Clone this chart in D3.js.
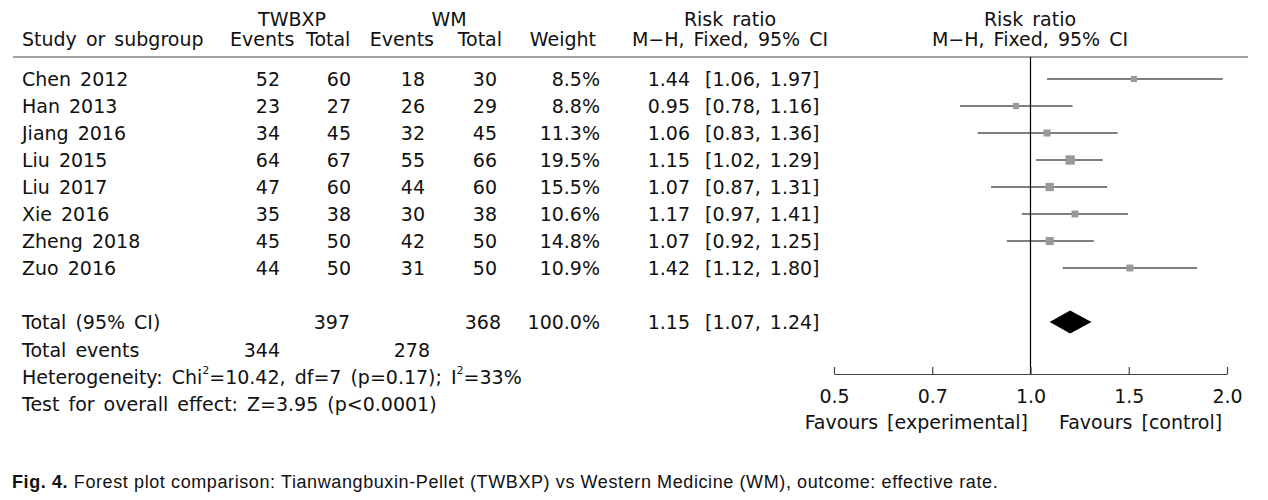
<!DOCTYPE html>
<html>
<head>
<meta charset="utf-8">
<script src="https://cdn.jsdelivr.net/npm/d3@7/dist/d3.min.js"></script>
<style>
  html, body { margin: 0; padding: 0; background: #fff; }
  svg text { font-family: "DejaVu Sans", sans-serif; font-size: 19px; fill: #111; word-spacing: 3px; }
</style>
</head>
<body>
<svg id="chart" width="1268" height="500"></svg>
<script>
// ---------- data ----------
const studies    = ["Chen 2012", "Han 2013", "Jiang 2016", "Liu 2015", "Liu 2017", "Xie 2016", "Zheng 2018", "Zuo 2016"];
const expEvents  = [52, 23, 34, 64, 47, 35, 45, 44];
const expTotal   = [60, 27, 45, 67, 60, 38, 50, 50];
const ctrlEvents = [18, 26, 32, 55, 44, 30, 42, 31];
const ctrlTotal  = [30, 29, 45, 66, 60, 38, 50, 50];
const weights    = [8.5, 8.8, 11.3, 19.5, 15.5, 10.6, 14.8, 10.9];
const rr         = [1.44, 0.95, 1.06, 1.15, 1.07, 1.17, 1.07, 1.42];
const rrLow      = [1.06, 0.78, 0.83, 1.02, 0.87, 0.97, 0.92, 1.12];
const rrHigh     = [1.97, 1.16, 1.36, 1.29, 1.31, 1.41, 1.25, 1.80];
const pooled     = { rr: 1.15, low: 1.07, high: 1.24 };
const totalsN    = [397, 368];
const totalsEv   = [344, 278];
const tickLabels = ["0.5", "0.7", "1.0", "1.5", "2.0"];

// ---------- scales ----------
const svg = d3.select("#chart");
const x = d3.scaleLog().domain([0.5, 2]).range([834, 1227]);
const xTicks = d3.scalePoint().domain(tickLabels).range([834, 1227]).padding(0);
const yRow = d3.scaleBand().domain(studies).range([65.5, 281.5]);
const rowC = s => yRow(s) + yRow.bandwidth() / 2;
const size = d3.scaleSqrt().domain([0, 19.5]).range([0, 9.3]);

const fmt2 = d3.format(".2f");
const fmtW = d3.format(".1f");

// ---------- header ----------
function txt(xp, yp, s, anchor) {
  return svg.append("text").attr("x", xp).attr("y", yp).attr("text-anchor", anchor || "start").text(s);
}
txt(292, 26, "TWBXP", "middle");
txt(449, 26, "WM", "middle");
txt(730, 26, "Risk ratio", "middle");
txt(1030, 26, "Risk ratio", "middle");
txt(22, 46, "Study or subgroup");
txt(230, 46, "Events", "start");
txt(306, 46, "Total", "start");
txt(434, 46, "Events", "end");
txt(502, 46, "Total", "end");
txt(596, 46, "Weight", "end");
txt(730, 46, "M\u2212H, Fixed, 95% CI", "middle");
txt(1030, 46, "M\u2212H, Fixed, 95% CI", "middle");

svg.append("line").attr("x1", 13).attr("x2", 1248).attr("y1", 57).attr("y2", 57)
  .attr("stroke", "#444").attr("stroke-width", 1.2);

// ---------- rows ----------
const rows = svg.append("g").selectAll("g").data(studies).join("g");
rows.append("text").attr("x", 22).attr("y", d => rowC(d) + 7).text(d => d);
rows.append("text").attr("x", 280).attr("y", d => rowC(d) + 7).attr("text-anchor", "end").text((d, i) => expEvents[i]);
rows.append("text").attr("x", 351).attr("y", d => rowC(d) + 7).attr("text-anchor", "end").text((d, i) => expTotal[i]);
rows.append("text").attr("x", 425).attr("y", d => rowC(d) + 7).attr("text-anchor", "end").text((d, i) => ctrlEvents[i]);
rows.append("text").attr("x", 497).attr("y", d => rowC(d) + 7).attr("text-anchor", "end").text((d, i) => ctrlTotal[i]);
rows.append("text").attr("x", 600).attr("y", d => rowC(d) + 7).attr("text-anchor", "end").text((d, i) => fmtW(weights[i]) + "%");
rows.append("text").attr("x", 690).attr("y", d => rowC(d) + 7).attr("text-anchor", "end").text((d, i) => fmt2(rr[i]));
rows.append("text").attr("x", 705).attr("y", d => rowC(d) + 7).text((d, i) => "[" + fmt2(rrLow[i]) + ", " + fmt2(rrHigh[i]) + "]");

// reference line at 1
svg.append("line").attr("x1", x(1)).attr("x2", x(1)).attr("y1", 57).attr("y2", 374)
  .attr("stroke", "#000").attr("stroke-width", 1.2);

// CI lines and squares
rows.append("line")
  .attr("x1", (d, i) => x(rrLow[i])).attr("x2", (d, i) => x(rrHigh[i]))
  .attr("y1", d => rowC(d)).attr("y2", d => rowC(d))
  .attr("stroke", "#555").attr("stroke-width", 1.4);
rows.append("rect")
  .attr("x", (d, i) => x(rr[i]) - size(weights[i]) / 2)
  .attr("y", (d, i) => rowC(d) - size(weights[i]) / 2)
  .attr("width", (d, i) => size(weights[i]))
  .attr("height", (d, i) => size(weights[i]))
  .attr("fill", "#999");

// ---------- totals ----------
const yTot = 322;
txt(22, yTot + 7, "Total (95% CI)");
txt(350, yTot + 7, totalsN[0], "end");
txt(501, yTot + 7, totalsN[1], "end");
txt(600, yTot + 7, "100.0%", "end");
txt(690, yTot + 7, fmt2(pooled.rr), "end");
txt(705, yTot + 7, "[" + fmt2(pooled.low) + ", " + fmt2(pooled.high) + "]");

svg.append("path")
  .attr("d", `M${x(pooled.low)},${yTot} L${x(pooled.rr)},${yTot - 11.5} L${x(pooled.high)},${yTot} L${x(pooled.rr)},${yTot + 11.5} Z`)
  .attr("fill", "#000");

txt(22, 357, "Total events");
txt(280, 357, totalsEv[0], "end");
txt(430, 357, totalsEv[1], "end");

const het = svg.append("text").attr("x", 22).attr("y", 384);
het.append("tspan").text("Heterogeneity: Chi");
het.append("tspan").attr("dy", -10).attr("dx", 0).style("font-size", "11px").text("2");
het.append("tspan").attr("dy", 10).text("=10.42, df=7 (p=0.17); I");
het.append("tspan").attr("dy", -10).attr("dx", 0).style("font-size", "11px").text("2");
het.append("tspan").attr("dy", 10).text("=33%");

txt(22, 411, "Test for overall effect: Z=3.95 (p<0.0001)");

// ---------- axis ----------
const axisG = svg.append("g").attr("transform", "translate(0,374)")
  .call(d3.axisBottom(xTicks).tickSizeInner(-7).tickSizeOuter(0).tickPadding(16));
axisG.attr("font-family", null).attr("font-size", null);
axisG.select(".domain").attr("stroke", "#444").attr("stroke-width", 1.2);
axisG.selectAll(".tick line").attr("stroke", "#444").attr("stroke-width", 1.2);
axisG.selectAll(".tick text").attr("fill", "#111");

txt(1028, 429, "Favours [experimental]", "end");
txt(1059, 429, "Favours [control]", "start");

// ---------- caption ----------
const cap = svg.append("text").attr("x", 12).attr("y", 488)
  .style("font-family", "'Liberation Sans', Arial, sans-serif").style("font-size", "18px")
  .style("word-spacing", "0px").style("letter-spacing", "0.6px");
cap.append("tspan").style("font-weight", "bold").text("Fig. 4.");
cap.append("tspan").text(" Forest plot comparison: Tianwangbuxin-Pellet (TWBXP) vs Western Medicine (WM), outcome: effective rate.");
</script>
</body>
</html>
